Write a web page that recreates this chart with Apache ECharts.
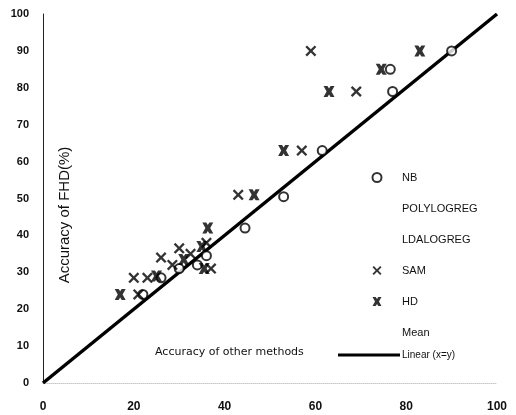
<!DOCTYPE html>
<html>
<head>
<meta charset="utf-8">
<script src="https://cdn.jsdelivr.net/npm/echarts@6/dist/echarts.min.js"></script>
<style>
  html, body { margin: 0; padding: 0; background: #fff; }
  #chart { width: 516px; height: 415px; }
</style>
</head>
<body>
<div id="chart"></div>
<script>
// Accuracy of FHD (y) against accuracy of the other methods (x), in percent
const nbPoints = [
  [22, 24], [26, 28.5], [30, 31], [34, 32], [36, 34.5], [44.5, 42],
  [53, 50.5], [61.5, 63], [77, 79], [76.5, 85], [90, 90]
];
const polylogregPoints = [];
const ldalogregPoints = [];
const samPoints = [
  [20, 28.5], [21, 24], [23, 28.5], [26, 34], [28.5, 32], [30, 36.5],
  [32.5, 35], [36, 38], [37, 31], [43, 51], [57, 63], [69, 79], [59, 90]
];
const hdPoints = [
  [17, 24], [25, 29], [31, 33.5], [35, 37], [35.5, 31], [36.3, 42],
  [46.5, 51], [53, 63], [63, 79], [74.5, 85], [83, 90]
];
const meanPoints = [];
const identityLine = [[0, 0], [100, 100]];
const xTicks = [0, 20, 40, 60, 80, 100];
const yTicks = [0, 10, 20, 30, 40, 50, 60, 70, 80, 90, 100];

const thinCross = 'path://M0,1.5 L1.5,0 L5,3.5 L8.5,0 L10,1.5 L6.5,5 L10,8.5 L8.5,10 L5,6.5 L1.5,10 L0,8.5 L3.5,5 Z';
const boldCross = 'path://M0,0 L3.6,0 L5,2.2 L6.4,0 L10,0 L7.2,5 L10,10 L6.4,10 L5,7.8 L3.6,10 L0,10 L2.8,5 Z';

const chart = echarts.init(document.getElementById('chart'), null, { renderer: 'canvas' });
const font = 'Liberation Sans, Arial, sans-serif';

chart.setOption({
  animation: false,
  backgroundColor: '#fff',
  grid: { left: 43, right: 19, top: 14, bottom: 32 },
  xAxis: {
    type: 'value', min: 0, max: 100, interval: 20,
    axisLine: { show: true, lineStyle: { color: '#c8c8c8', width: 1, type: 'dotted' } },
    axisTick: { show: false },
    splitLine: { show: false },
    axisLabel: {
      margin: 18, color: '#111', fontFamily: font, fontWeight: 'bold', fontSize: 12,
      formatter: v => xTicks.includes(v) ? String(v) : ''
    }
  },
  yAxis: {
    type: 'value', min: 0, max: 100, interval: 10,
    axisLine: { show: true, lineStyle: { color: '#222', width: 1 } },
    axisTick: { show: false },
    splitLine: { show: false },
    axisLabel: {
      margin: 14, color: '#111', fontFamily: font, fontWeight: 'bold', fontSize: 11,
      formatter: v => yTicks.includes(v) ? String(v) : ''
    }
  },
  legend: [
    {
      orient: 'vertical', left: 364, top: 167,
      itemWidth: 16, itemHeight: 9, itemGap: 20,
      textStyle: { fontFamily: font, fontSize: 11, color: '#111', padding: [0, 0, 0, 12] },
      data: [
        { name: 'NB' },
        { name: 'POLYLOGREG', icon: 'none' },
        { name: 'LDALOGREG', icon: 'none' },
        { name: 'SAM' },
        { name: 'HD' },
        { name: 'Mean', icon: 'none' }
      ]
    },
    {
      orient: 'horizontal', left: 333, top: 345,
      itemWidth: 62, itemHeight: 3,
      textStyle: { fontFamily: font, fontSize: 10, color: '#111', padding: [0, 0, 0, -3] },
      data: [{ name: 'Linear (x=y)', icon: 'rect' }]
    }
  ],
  graphic: [
    {
      type: 'text', left: 155, top: 347,
      style: { text: 'Accuracy of other methods', fill: '#111', font: '11px DejaVu Sans, sans-serif' }
    },
    {
      type: 'text', x: 65, y: 215, rotation: Math.PI / 2,
      style: {
        text: 'Accuracy of FHD(%)', fill: '#111', font: '15px ' + font,
        align: 'center', verticalAlign: 'middle'
      }
    }
  ],
  series: [
    {
      name: 'Linear (x=y)', type: 'line', data: identityLine,
      symbol: 'none', z: 1,
      lineStyle: { color: '#000', width: 3.5 },
      itemStyle: { color: '#000' }
    },
    {
      name: 'NB', type: 'scatter', data: nbPoints, z: 3,
      symbol: 'emptyCircle', symbolSize: 9,
      itemStyle: { color: '#000', borderColor: '#000', borderWidth: 2 }
    },
    { name: 'POLYLOGREG', type: 'scatter', data: polylogregPoints, symbol: 'none' },
    { name: 'LDALOGREG', type: 'scatter', data: ldalogregPoints, symbol: 'none' },
    {
      name: 'SAM', type: 'scatter', data: samPoints, z: 4,
      symbol: thinCross, symbolSize: 11,
      itemStyle: { color: '#000' }
    },
    {
      name: 'HD', type: 'scatter', data: hdPoints, z: 4,
      symbol: boldCross, symbolSize: 11,
      itemStyle: { color: '#000' }
    },
    { name: 'Mean', type: 'scatter', data: meanPoints, symbol: 'none' }
  ]
});
</script>
</body>
</html>
